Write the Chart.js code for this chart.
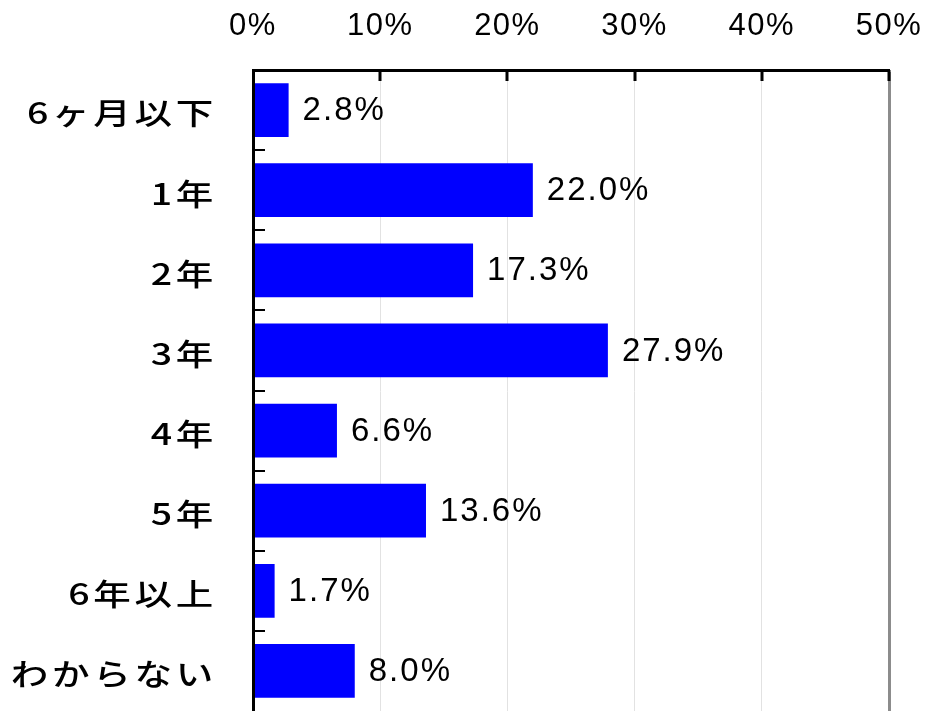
<!DOCTYPE html>
<html>
<head>
<meta charset="utf-8">
<script src="https://cdn.jsdelivr.net/npm/chart.js@4.4.0/dist/chart.umd.min.js"></script>
<style>
  html, body { margin: 0; padding: 0; background: #fff; overflow: hidden; }
</style>
</head>
<body>
<canvas id="periodChart" width="928" height="711"></canvas>
<script>
// === Data ===
const categories = ['6ヶ月以下', '1年', '2年', '3年', '4年', '5年', '6年以上', 'わからない'];
const shares = [2.8, 22.0, 17.3, 27.9, 6.6, 13.6, 1.7, 8.0];
const axisMax = 50;
const axisStep = 10;

const numFont = { family: '"Liberation Sans", Arial, sans-serif', size: 31, weight: 'normal' };
const valFont = { family: '"Liberation Sans", Arial, sans-serif', size: 33, weight: 'normal' };
const catFont = { family: '"Noto Sans CJK JP", sans-serif', size: 30, weight: '500' };
const catStretch = 1.25;
const catPadding = 36;

// letter spacing / stretch for axis labels
const labelPlugin = {
  id: 'labelStyle',
  afterLayout(chart) {
    const x = chart.scales.x, y = chart.scales.y;
    if (x && !x._styled) {
      const orig = x.drawLabels.bind(x);
      x.drawLabels = function (area) {
        const c = this.ctx;
        c.save();
        c.letterSpacing = '1.5px';
        orig(area);
        c.restore();
      };
      x._styled = true;
    }
    if (y && !y._styled) {
      const orig = y.drawLabels.bind(y);
      y.drawLabels = function (area) {
        const c = this.ctx;
        const ax = this.right - catPadding;
        c.save();
        c.letterSpacing = '3px';
        c.translate(ax, 3);
        c.scale(catStretch, 1);
        c.translate(-ax, 0);
        orig(area);
        c.restore();
      };
      y._styled = true;
    }
  }
};

// === inward tick marks + value labels ===
const marksPlugin = {
  id: 'marks',
  afterDatasetsDraw(chart) {
    const ctx = chart.ctx;
    const x = chart.scales.x, y = chart.scales.y;
    const area = chart.chartArea;
    ctx.save();
    ctx.strokeStyle = '#000';
    ctx.lineWidth = 3;
    ctx.beginPath();
    for (let v = axisStep; v <= axisMax; v += axisStep) {
      const px = Math.round(x.getPixelForValue(v));
      ctx.moveTo(px, area.top);
      ctx.lineTo(px, area.top + 11);
    }
    ctx.stroke();
    ctx.lineWidth = 2;
    ctx.beginPath();
    for (let i = 0; i < categories.length - 1; i++) {
      const py = Math.round((y.getPixelForValue(i) + y.getPixelForValue(i + 1)) / 2);
      ctx.moveTo(area.left, py);
      ctx.lineTo(area.left + 12, py);
    }
    ctx.stroke();

    // value labels
    ctx.fillStyle = '#000';
    ctx.font = valFont.weight + ' ' + valFont.size + 'px ' + valFont.family;
    ctx.letterSpacing = '2px';
    ctx.textAlign = 'left';
    ctx.textBaseline = 'middle';
    chart.getDatasetMeta(0).data.forEach((bar, i) => {
      ctx.fillText(shares[i].toFixed(1) + '%', bar.x + 14, bar.y + 1);
    });
    ctx.restore();
  }
};

const ctx = document.getElementById('periodChart').getContext('2d');
const periodChart = new Chart(ctx, {
  type: 'bar',
  data: {
    labels: categories,
    datasets: [{
      data: shares,
      backgroundColor: '#0000ff',
      borderWidth: 0,
      categoryPercentage: 1.0,
      barPercentage: 0.67
    }]
  },
  options: {
    indexAxis: 'y',
    responsive: false,
    animation: false,
    layout: { padding: { top: 0, right: 39, bottom: 0, left: 0 } },
    plugins: {
      legend: { display: false },
      tooltip: { enabled: false }
    },
    scales: {
      x: {
        position: 'top',
        min: 0,
        max: axisMax,
        afterFit: (s) => {
          s.height = 70;
          s.paddingLeft = 0; s.paddingRight = 0;
        },
        ticks: {
          stepSize: axisStep,
          color: '#000',
          font: numFont,
          padding: 25,
          callback: (v) => v + '%'
        },
        grid: {
          drawTicks: false,
          color: (c) => (c.tick && c.tick.value === axisMax) ? '#8c8c8c' : '#e2e2e2',
          lineWidth: (c) => (c.tick && c.tick.value === axisMax) ? 3 : 1
        },
        border: { display: true, color: '#000', width: 3, z: 1 }
      },
      y: {
        afterFit: (s) => {
          s.width = 253;
          s.paddingTop = 0; s.paddingBottom = 0;
        },
        ticks: {
          color: '#000',
          font: catFont,
          padding: catPadding
        },
        grid: { display: true, drawOnChartArea: false, drawTicks: false },
        border: { display: true, color: '#000', width: 3, z: 1 }
      }
    }
  },
  plugins: [labelPlugin, marksPlugin]
});
</script>
</body>
</html>
